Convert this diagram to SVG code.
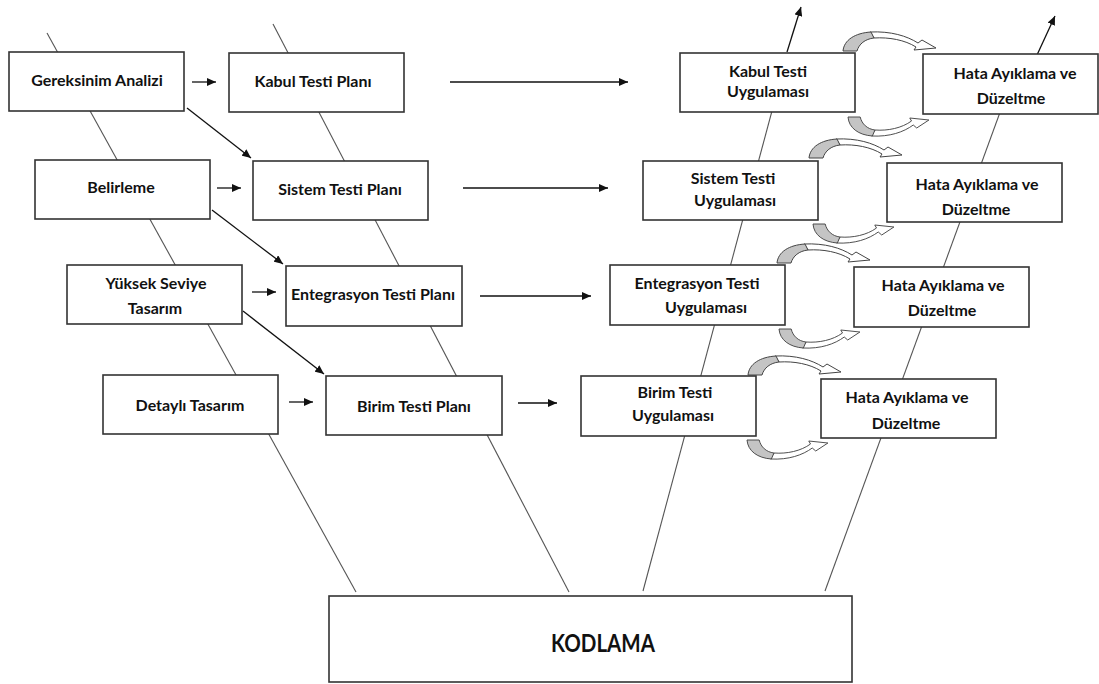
<svg xmlns="http://www.w3.org/2000/svg" width="1099" height="684" viewBox="0 0 1099 684">
  <style>
    .leg { stroke: #555; stroke-width: 1.1; fill: none; }
    .box { fill: #fff; stroke: #333; stroke-width: 1.6; }
    .lbl { font-family: Lato, "Liberation Sans", sans-serif; font-weight: bold; font-size: 16px; fill: #111; text-anchor: middle; }
    .big { font-size: 24px; }
    .arr { stroke: #111; stroke-width: 1.3; fill: none; marker-end: url(#head); }
    .cg { fill: #c4c4c4; stroke: #444; stroke-width: 1; }
    .cw { fill: #fff; stroke: #444; stroke-width: 1; }
  </style>
  <defs>
    <marker id="head" markerUnits="userSpaceOnUse" markerWidth="10" markerHeight="8" refX="9" refY="4" orient="auto">
      <path d="M0,0 L9,4 L0,8 Z" fill="#111"/>
    </marker>
    <!-- curved loop arrow, origin at the outer foot of the shaded end -->
    <g id="loop">
      <path class="cw" d="M 27,-19 C 48,-20 64,-15 75,-8 L 79,-11 L 93,-3 L 71,-1 L 73,-4 C 62,-11 46,-14 31,-13 Z"/>
      <path class="cg" d="M 0,0 C 1,-11 12,-18 28,-19 L 31,-13 C 22,-12 16,-7 14,0 Z"/>
    </g>
  </defs>

  <!-- slanted stage lines behind the boxes -->
  <g id="legs">
    <line class="leg" x1="47" y1="33" x2="356" y2="592"/>
    <line class="leg" x1="273" y1="24" x2="569" y2="592"/>
    <line class="leg" x1="643" y1="591" x2="787" y2="55"/>
    <line class="leg" x1="825" y1="591" x2="1021" y2="55"/>
  </g>

  <!-- connectors -->
  <g id="connectors">
    <line class="arr" x1="192" y1="82" x2="216" y2="82"/>
    <line class="arr" x1="217" y1="188" x2="241" y2="188"/>
    <line class="arr" x1="252" y1="292" x2="276" y2="292"/>
    <line class="arr" x1="289" y1="402" x2="313" y2="402"/>

    <line class="arr" x1="450" y1="82" x2="628" y2="82"/>
    <line class="arr" x1="463" y1="188" x2="608" y2="188"/>
    <line class="arr" x1="480" y1="296" x2="591" y2="296"/>
    <line class="arr" x1="518" y1="403" x2="557" y2="403"/>

    <line class="arr" x1="187" y1="108" x2="251" y2="158"/>
    <line class="arr" x1="212" y1="210" x2="283" y2="264"/>
    <line class="arr" x1="243" y1="311" x2="324" y2="374"/>

    <line class="arr" x1="787" y1="52" x2="801" y2="7"/>
    <line class="arr" x1="1037" y1="55" x2="1055" y2="16"/>

    <use href="#loop" transform="translate(843,51)"/>
    <use href="#loop" transform="translate(848,117) scale(0.87,-1)"/>
    <use href="#loop" transform="translate(809,158)"/>
    <use href="#loop" transform="translate(813,224) scale(0.87,-1)"/>
    <use href="#loop" transform="translate(777,263)"/>
    <use href="#loop" transform="translate(779,329) scale(0.87,-1)"/>
    <use href="#loop" transform="translate(748,375)"/>
    <use href="#loop" transform="translate(747,440) scale(0.87,-1)"/>
  </g>

  <!-- left column: analysis and design stages -->
  <g id="gereksinim">
    <rect class="box" x="9" y="52" width="175" height="59"/>
    <text class="lbl" x="97" y="86">Gereksinim Analizi</text>
  </g>
  <g id="belirleme">
    <rect class="box" x="35" y="160" width="175" height="59"/>
    <text class="lbl" x="121" y="193">Belirleme</text>
  </g>
  <g id="yuksek-seviye">
    <rect class="box" x="67" y="265" width="175" height="59"/>
    <text class="lbl" x="156" y="289">Yüksek Seviye</text>
    <text class="lbl" x="155" y="314">Tasarım</text>
  </g>
  <g id="detayli">
    <rect class="box" x="103" y="375" width="175" height="59"/>
    <text class="lbl" x="190" y="411">Detaylı Tasarım</text>
  </g>

  <!-- test plans -->
  <g id="kabul-plan">
    <rect class="box" x="229" y="53" width="175" height="59"/>
    <text class="lbl" x="313" y="87">Kabul Testi Planı</text>
  </g>
  <g id="sistem-plan">
    <rect class="box" x="253" y="161" width="175" height="59"/>
    <text class="lbl" x="340" y="195">Sistem Testi Planı</text>
  </g>
  <g id="entegrasyon-plan">
    <rect class="box" x="286" y="266" width="176" height="60"/>
    <text class="lbl" x="373" y="300">Entegrasyon Testi Planı</text>
  </g>
  <g id="birim-plan">
    <rect class="box" x="326" y="376" width="176" height="59"/>
    <text class="lbl" x="414" y="412">Birim Testi Planı</text>
  </g>

  <!-- test executions -->
  <g id="kabul-uyg">
    <rect class="box" x="680" y="53" width="175" height="59"/>
    <text class="lbl" x="768" y="77">Kabul Testi</text>
    <text class="lbl" x="768" y="97">Uygulaması</text>
  </g>
  <g id="sistem-uyg">
    <rect class="box" x="643" y="161" width="175" height="59"/>
    <text class="lbl" x="733" y="184">Sistem Testi</text>
    <text class="lbl" x="735" y="206">Uygulaması</text>
  </g>
  <g id="entegrasyon-uyg">
    <rect class="box" x="610" y="265" width="175" height="60"/>
    <text class="lbl" x="697" y="289">Entegrasyon Testi</text>
    <text class="lbl" x="706" y="313">Uygulaması</text>
  </g>
  <g id="birim-uyg">
    <rect class="box" x="581" y="376" width="175" height="60"/>
    <text class="lbl" x="675" y="398">Birim Testi</text>
    <text class="lbl" x="673" y="421">Uygulaması</text>
  </g>

  <!-- debugging and fixing -->
  <g id="hata-1">
    <rect class="box" x="923" y="54" width="175" height="60"/>
    <text class="lbl" x="1015" y="79">Hata Ayıklama ve</text>
    <text class="lbl" x="1011" y="104">Düzeltme</text>
  </g>
  <g id="hata-2">
    <rect class="box" x="887" y="163" width="175" height="59"/>
    <text class="lbl" x="977" y="190">Hata Ayıklama ve</text>
    <text class="lbl" x="976" y="215">Düzeltme</text>
  </g>
  <g id="hata-3">
    <rect class="box" x="854" y="267" width="175" height="60"/>
    <text class="lbl" x="943" y="291">Hata Ayıklama ve</text>
    <text class="lbl" x="942" y="316">Düzeltme</text>
  </g>
  <g id="hata-4">
    <rect class="box" x="821" y="379" width="175" height="59"/>
    <text class="lbl" x="907" y="403">Hata Ayıklama ve</text>
    <text class="lbl" x="906" y="429">Düzeltme</text>
  </g>

  <!-- coding at the base of the V -->
  <g id="kodlama">
    <rect class="box" x="329" y="596" width="523" height="86"/>
    <text class="lbl big" x="603" y="652" textLength="104" lengthAdjust="spacingAndGlyphs">KODLAMA</text>
  </g>
</svg>
